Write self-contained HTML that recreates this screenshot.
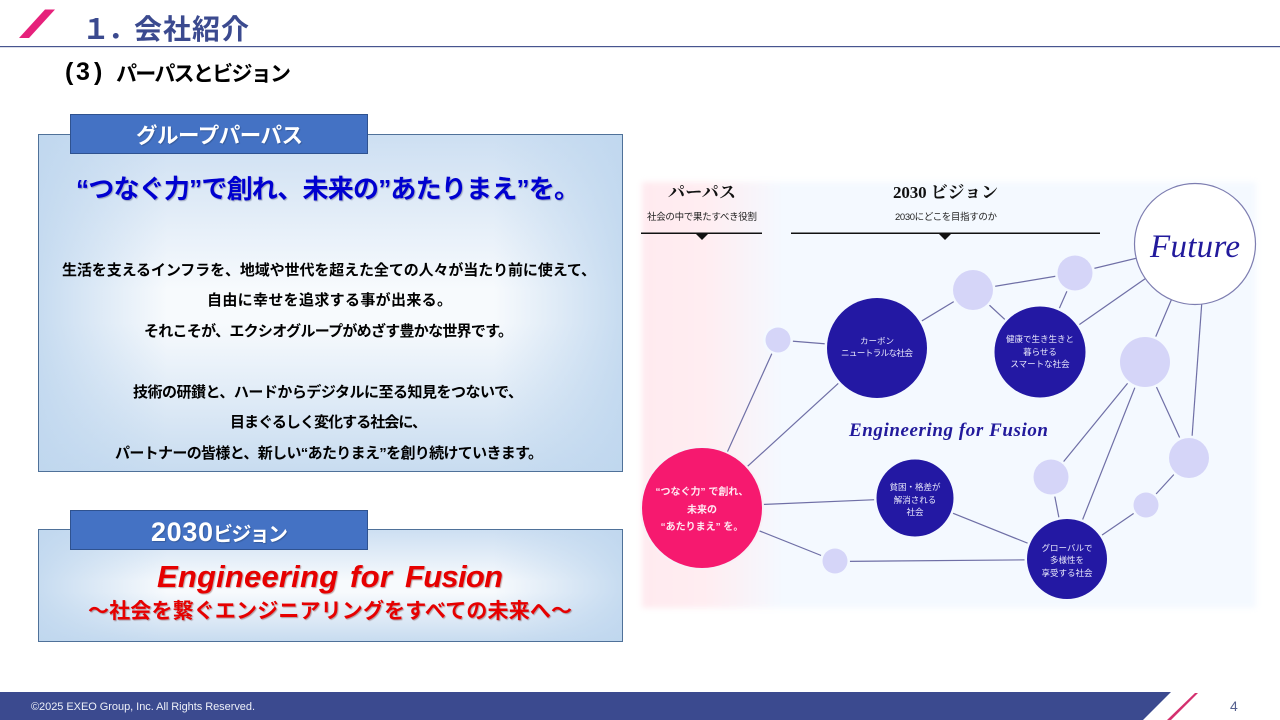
<!DOCTYPE html>
<html lang="ja">
<head>
<meta charset="utf-8">
<title>会社紹介</title>
<style>
html,body{margin:0;padding:0;background:#fff;width:1280px;height:720px;overflow:hidden}
.box{position:absolute;box-sizing:border-box;border:1px solid #4f7199;background:
linear-gradient(to right,rgba(190,214,238,.85),rgba(190,214,238,0) 22%,rgba(190,214,238,0) 78%,rgba(190,214,238,.85)),
linear-gradient(to bottom,#cddff2,#f7fafd 46%,#f7fafd 56%,#c8dcf0)}
#bg{position:absolute;left:642px;top:182px;width:614px;height:426px;filter:blur(3px);
background:linear-gradient(to right,#ffeaef 0,#ffedf1 10%,#faf2f7 16%,#f4f9ff 23%,#f4f9ff 100%)}
svg{position:absolute;left:0;top:0}
text{font-family:"Liberation Sans","Noto Sans CJK JP",sans-serif}
.b{font-weight:700}
.body{font-size:15px;font-weight:700;fill:#000}
.tab{font-weight:700;fill:#fff;text-shadow:1px 1px 1px rgba(0,0,0,.2)}
.red{font-weight:700;fill:#e60000;text-shadow:1px 1px 1px rgba(90,0,0,.35)}
.ser{font-family:"Liberation Serif","Noto Serif CJK JP","Noto Serif CJK SC",serif;font-weight:700;fill:#111}
.cap{font-size:9.5px;fill:#222}
.c{font-size:8.5px;fill:#e8e8fb;text-anchor:middle}
.p{font-size:10px;fill:#ffe9f2;text-anchor:middle;font-weight:700}
.ln{stroke:#6f6fa6;stroke-width:1.2;fill:none}
.lt{fill:#d5d5f8;stroke:#f4f9ff;stroke-width:5;paint-order:stroke}
.dk{fill:#2318a3;stroke:#f4f9ff;stroke-width:5;paint-order:stroke}
</style>
</head>
<body>
<div id="bg"></div>
<div class="box" style="left:38px;top:134px;width:585px;height:338px"></div>
<div class="box" style="left:38px;top:529px;width:585px;height:113px"></div>
<svg width="1280" height="720" viewBox="0 0 1280 720" xmlns="http://www.w3.org/2000/svg">
<!-- header -->
<polygon points="19,38 45,9.5 55,9.5 29,38" fill="#e6217b"/>
<text x="82" y="39" font-size="28" class="b" fill="#3b4a8f">１</text>
<text x="108" y="39" font-size="28" class="b" fill="#3b4a8f">．</text>
<text x="134" y="39" font-size="28" class="b" fill="#3b4a8f" textLength="115">会社紹介</text>
<rect x="0" y="46" width="1280" height="1.2" fill="#47558f"/>
<text x="65" y="80" font-size="25" class="b" fill="#000">(</text>
<text x="76" y="80" font-size="25" class="b" fill="#000">3</text>
<text x="94" y="80" font-size="25" class="b" fill="#000">)</text>
<text x="116" y="81" font-size="21" class="b" fill="#000" textLength="175">パーパスとビジョン</text>

<!-- tabs -->
<rect x="70.500" y="114.500" width="297" height="39" fill="#4472c4" stroke="#2f528f"/>
<text x="136" y="143" font-size="21.500" class="tab" textLength="167">グループパーパス</text>
<rect x="70.500" y="510.500" width="297" height="39" fill="#4472c4" stroke="#2f528f"/>
<text x="151" y="541" font-size="27" class="tab" textLength="62">2030</text>
<text x="213" y="541" font-size="20" class="tab" textLength="75">ビジョン</text>

<!-- purpose text -->
<text x="76" y="198" font-size="26" class="b" fill="#0000d0" textLength="504" style="text-shadow:1px 1px 1px rgba(0,0,60,.3)">“つなぐ力”で創れ、未来の”あたりまえ”を。</text>
<text x="62" y="275" class="body" textLength="534">生活を支えるインフラを、地域や世代を超えた全ての人々が当たり前に使えて、</text>
<text x="207" y="305" class="body" textLength="245">自由に幸せを追求する事が出来る。</text>
<text x="144" y="336" class="body" textLength="369">それこそが、エクシオグループがめざす豊かな世界です。</text>
<text x="133" y="397" class="body" textLength="390">技術の研鑚と、ハードからデジタルに至る知見をつないで、</text>
<text x="230" y="427" class="body" textLength="197">目まぐるしく変化する社会に、</text>
<text x="115" y="458" class="body" textLength="428">パートナーの皆様と、新しい“あたりまえ”を創り続けていきます。</text>

<!-- vision text -->
<text x="157" y="587" font-size="31" font-style="italic" class="red" textLength="181">Engineering</text>
<text x="350" y="587" font-size="31" font-style="italic" class="red" textLength="42">for</text>
<text x="405" y="587" font-size="31" font-style="italic" class="red" textLength="98">Fusion</text>
<text x="88" y="618" font-size="21" class="red" textLength="484">～社会を繋ぐエンジニアリングをすべての未来へ～</text>

<!-- diagram headings -->
<text x="668" y="198" font-size="17" class="ser" textLength="68">パーパス</text>
<text x="647" y="220" class="cap" textLength="110">社会の中で果たすべき役割</text>
<rect x="641" y="232.500" width="121" height="1.5" fill="#111"/>
<polygon points="696,234 708,234 702,240" fill="#111"/>
<text x="893" y="198" font-size="17" class="ser" textLength="105">2030 ビジョン</text>
<text x="895" y="220" class="cap" textLength="102">2030にどこを目指すのか</text>
<rect x="791" y="232.500" width="309" height="1.5" fill="#111"/>
<polygon points="939,234 951,234 945,240" fill="#111"/>

<!-- connectors -->
<g class="ln">
<line x1="702" y1="508" x2="778" y2="340"/>
<line x1="702" y1="508" x2="877" y2="348"/>
<line x1="702" y1="507" x2="915" y2="498"/>
<line x1="702" y1="508" x2="835" y2="561"/>
<line x1="835" y1="561.500" x2="1067" y2="559.500"/>
<line x1="915" y1="498" x2="1067" y2="559"/>
<line x1="778" y1="340" x2="877" y2="348"/>
<line x1="877" y1="348" x2="973" y2="290"/>
<line x1="973" y1="290" x2="1075" y2="273"/>
<line x1="973" y1="290" x2="1040" y2="352"/>
<line x1="1075" y1="273" x2="1040" y2="352"/>
<line x1="1075" y1="273" x2="1195" y2="244"/>
<line x1="1040" y1="352" x2="1195" y2="244"/>
<line x1="1195" y1="244" x2="1145" y2="362"/>
<line x1="1202" y1="300" x2="1190.500" y2="458"/>
<line x1="1145" y1="362" x2="1189" y2="458"/>
<line x1="1145" y1="362" x2="1051" y2="477"/>
<line x1="1145" y1="362" x2="1067" y2="559"/>
<line x1="1051" y1="477" x2="1067" y2="559"/>
<line x1="1189" y1="458" x2="1146" y2="505"/>
<line x1="1146" y1="505" x2="1067" y2="559"/>
</g>

<!-- nodes -->
<circle cx="778" cy="340" r="12.500" class="lt"/>
<circle cx="973" cy="290" r="20" class="lt"/>
<circle cx="1075" cy="273" r="17.500" class="lt"/>
<circle cx="1145" cy="362" r="25" class="lt"/>
<circle cx="1189" cy="458" r="20" class="lt"/>
<circle cx="1051" cy="477" r="17.500" class="lt"/>
<circle cx="1146" cy="505" r="12.500" class="lt"/>
<circle cx="835" cy="561" r="12.500" class="lt"/>
<circle cx="877" cy="348" r="50" class="dk"/>
<circle cx="1040" cy="352" r="45.500" class="dk"/>
<circle cx="915" cy="498" r="38.500" class="dk"/>
<circle cx="1067" cy="559" r="40" class="dk"/>
<circle cx="702" cy="508" r="60" fill="#f6196f" stroke="#f8f0f6" stroke-width="4" paint-order="stroke"/>
<circle cx="1195" cy="244" r="60.500" fill="#fff" stroke="#7d7db0" stroke-width="1.2"/>

<!-- node labels -->
<text x="877" y="344" class="c">カーボン</text>
<text x="877" y="356" class="c" textLength="72">ニュートラルな社会</text>
<text x="1040" y="342" class="c">健康で生き生きと</text>
<text x="1040" y="355" class="c">暮らせる</text>
<text x="1040" y="367" class="c">スマートな社会</text>
<text x="915" y="490" class="c">貧困・格差が</text>
<text x="915" y="503" class="c">解消される</text>
<text x="915" y="515" class="c">社会</text>
<text x="1067" y="551" class="c">グローバルで</text>
<text x="1067" y="563" class="c">多様性を</text>
<text x="1067" y="576" class="c">享受する社会</text>
<text x="702" y="495" class="p">“つなぐ力” で創れ、</text>
<text x="702" y="513" class="p">未来の</text>
<text x="702" y="530" class="p">“あたりまえ” を。</text>

<text x="1150" y="257" font-size="33" font-style="italic" fill="#221a9c" textLength="90" style="font-family:'Liberation Serif',serif">Future</text>
<text x="849" y="436" font-size="19" font-style="italic" font-weight="700" fill="#221a9c" textLength="199" style="font-family:'Liberation Serif',serif">Engineering for Fusion</text>

<!-- footer -->
<polygon points="0,692 1171,692 1143,720 0,720" fill="#3b4a8f"/>
<text x="31" y="710" font-size="11" fill="#eef0f8" textLength="224">©2025 EXEO Group, Inc. All Rights Reserved.</text>
<polygon points="1167,720 1195,693 1198,693 1171,720" fill="#d4306f"/>
<text x="1230" y="711" font-size="14" fill="#55608f">4</text>
</svg>
</body>
</html>
